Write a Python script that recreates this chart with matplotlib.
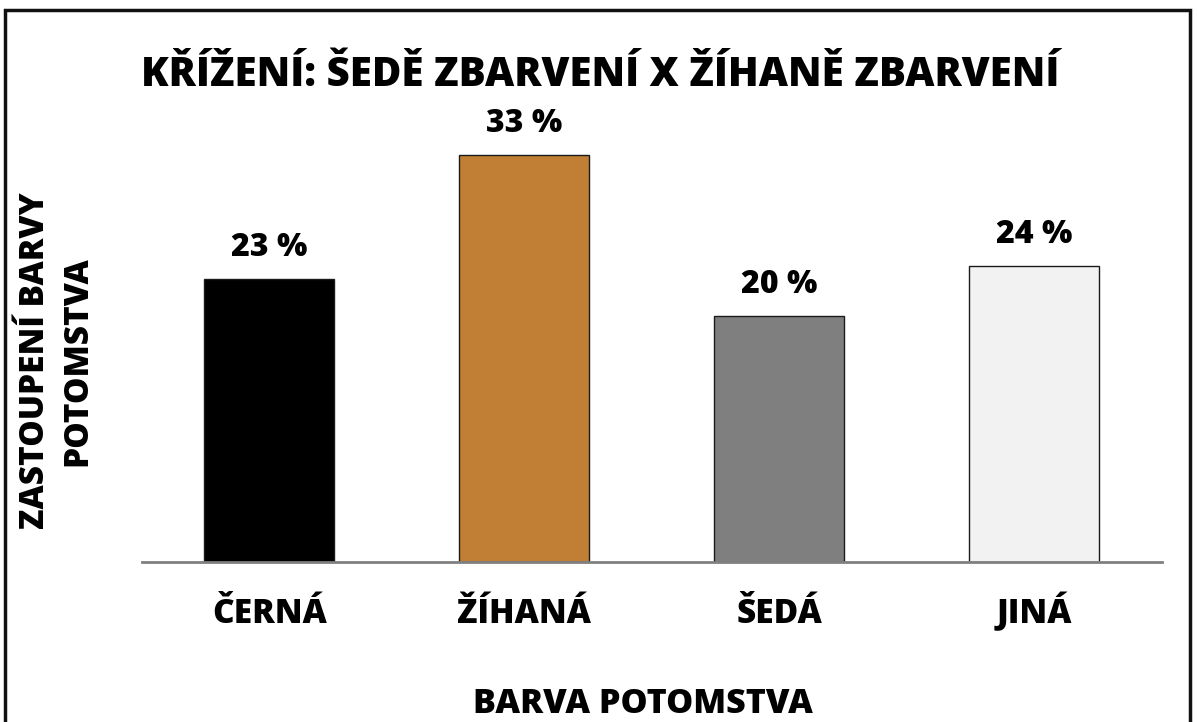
import matplotlib.pyplot as plt
from matplotlib.patches import Rectangle

categories = ['ČERNÁ', 'ŽÍHANÁ', 'ŠEDÁ', 'JINÁ']
values = [23, 33, 20, 24]
labels = ['23 %', '33 %', '20 %', '24 %']
colors = ['#000000', '#C07F35', '#7F7F7F', '#F2F2F2']

plt.rcParams['font.family'] = ['Open Sans', 'DejaVu Sans']
W = 800

fig = plt.figure(figsize=(11.98, 7.22), dpi=100)
ax = fig.add_axes([0.1185, 0.2216, 0.8514, 0.64])

x = range(len(categories))
ax.bar(x, values, width=0.51, color=colors, edgecolor='#1a1a1a', linewidth=1)
for i, (v, t) in enumerate(zip(values, labels)):
    ax.annotate(t, (i, v), xytext=(0, 23), textcoords='offset pixels', ha='center',
                va='baseline', fontsize=23, fontweight=W)

ax.set_xlim(-0.5, 3.5)
ax.set_ylim(0, 37.5)
ax.set_xticks(list(x))
ax.set_xticklabels(categories, fontsize=24, fontweight=W)
for lbl in ax.get_xticklabels():
    lbl.set_va('baseline')
ax.tick_params(axis='x', length=0, pad=44)
ax.set_yticks([])
for s in ['top', 'right', 'left']:
    ax.spines[s].set_visible(False)
ax.spines['bottom'].set_color('#808080')
ax.spines['bottom'].set_linewidth(2)

fig.text(0.501, 0.895, 'KŘÍŽENÍ: ŠEDĚ ZBARVENÍ X ŽÍHANĚ ZBARVENÍ', ha='center', va='center',
         fontsize=29, fontweight=W)
fig.text(0.537, 0.0125, 'BARVA POTOMSTVA', ha='center', va='baseline', fontsize=24.5, fontweight=W)
fig.text(0.047, 0.50, 'ZASTOUPENÍ BARVY\nPOTOMSTVA', ha='center', va='center', rotation=90,
         fontsize=24, fontweight=W, linespacing=1.3)

fig.patches.append(Rectangle((5 / 1198, -0.05), 1185 / 1198, 1.05 - 10 / 722, fill=False,
                             edgecolor='#111111', linewidth=2.5, transform=fig.transFigure,
                             clip_on=False))

fig.savefig('out.png', dpi=100)
